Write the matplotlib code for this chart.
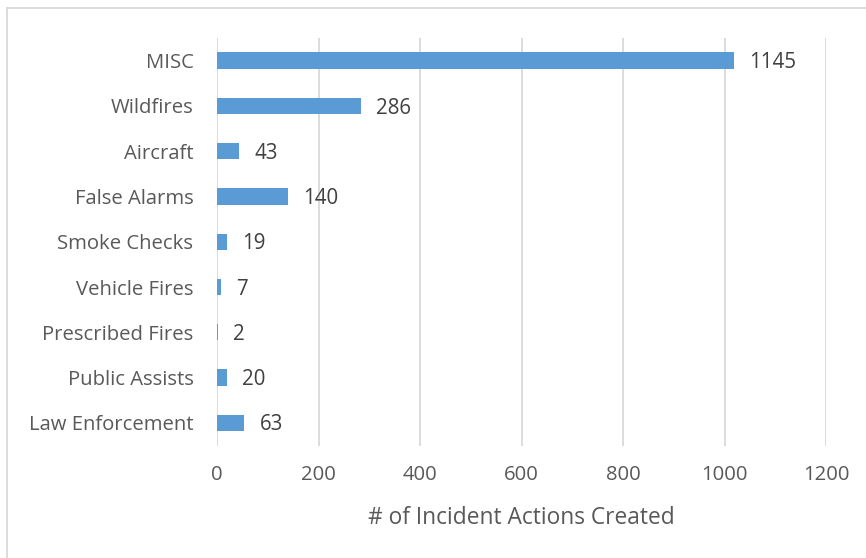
import matplotlib.pyplot as plt
from matplotlib.lines import Line2D

plt.rcParams['font.family'] = ['Open Sans', 'DejaVu Sans']

# categories from top to bottom
categories = ['MISC', 'Wildfires', 'Aircraft', 'False Alarms', 'Smoke Checks',
              'Vehicle Fires', 'Prescribed Fires', 'Public Assists', 'Law Enforcement']
# bar lengths as drawn (MISC bar is drawn shorter than its label says)
bar_values = [1018, 283, 43, 140, 19, 7, 2, 20, 54]
# data labels as printed
label_values = [1145, 286, 43, 140, 19, 7, 2, 20, 63]
x_ticks = [0, 200, 400, 600, 800, 1000, 1200]

text_col = '#595959'
grid_col = '#d9d9d9'
bar_col = '#5b9bd5'

fig = plt.figure(figsize=(8.66, 5.58), dpi=100)
ax = fig.add_axes([217/866, 1-445.5/558, (826-217)/866, (445.5-38)/558])

pos = list(range(len(categories)))
ax.barh(pos, bar_values, height=0.36, color=bar_col, zorder=3)
for p, bv, lv in zip(pos, bar_values, label_values):
    ax.annotate(str(lv), (bv, p), xytext=(11, -1.5), textcoords='offset points',
                va='center', ha='left', fontsize=14.8, color='#404040')

ax.set_ylim(len(categories) - 0.5, -0.5)
ax.set_xlim(0, 1200)
ax.set_yticks(pos)
ax.set_yticklabels(categories, fontsize=14.6, color=text_col)
ax.set_xticks(x_ticks)
ax.set_xticklabels([str(t) for t in x_ticks], fontsize=14.6, color=text_col)
ax.tick_params(axis='both', length=0)
ax.tick_params(axis='x', pad=14)
ax.tick_params(axis='y', pad=17)
ax.grid(axis='x', color=grid_col, lw=1.3, zorder=0)
for s in ax.spines.values():
    s.set_visible(False)
ax.set_xlabel('# of Incident Actions Created', fontsize=16.4, color=text_col, labelpad=15)

# chart frame
fig.add_artist(Line2D([6.5/866, 6.5/866], [0, 1-8/558], color=grid_col, lw=1.3))
fig.add_artist(Line2D([6.5/866, 1], [1-8/558, 1-8/558], color=grid_col, lw=1.3))

fig.savefig('out.png', dpi=100)
